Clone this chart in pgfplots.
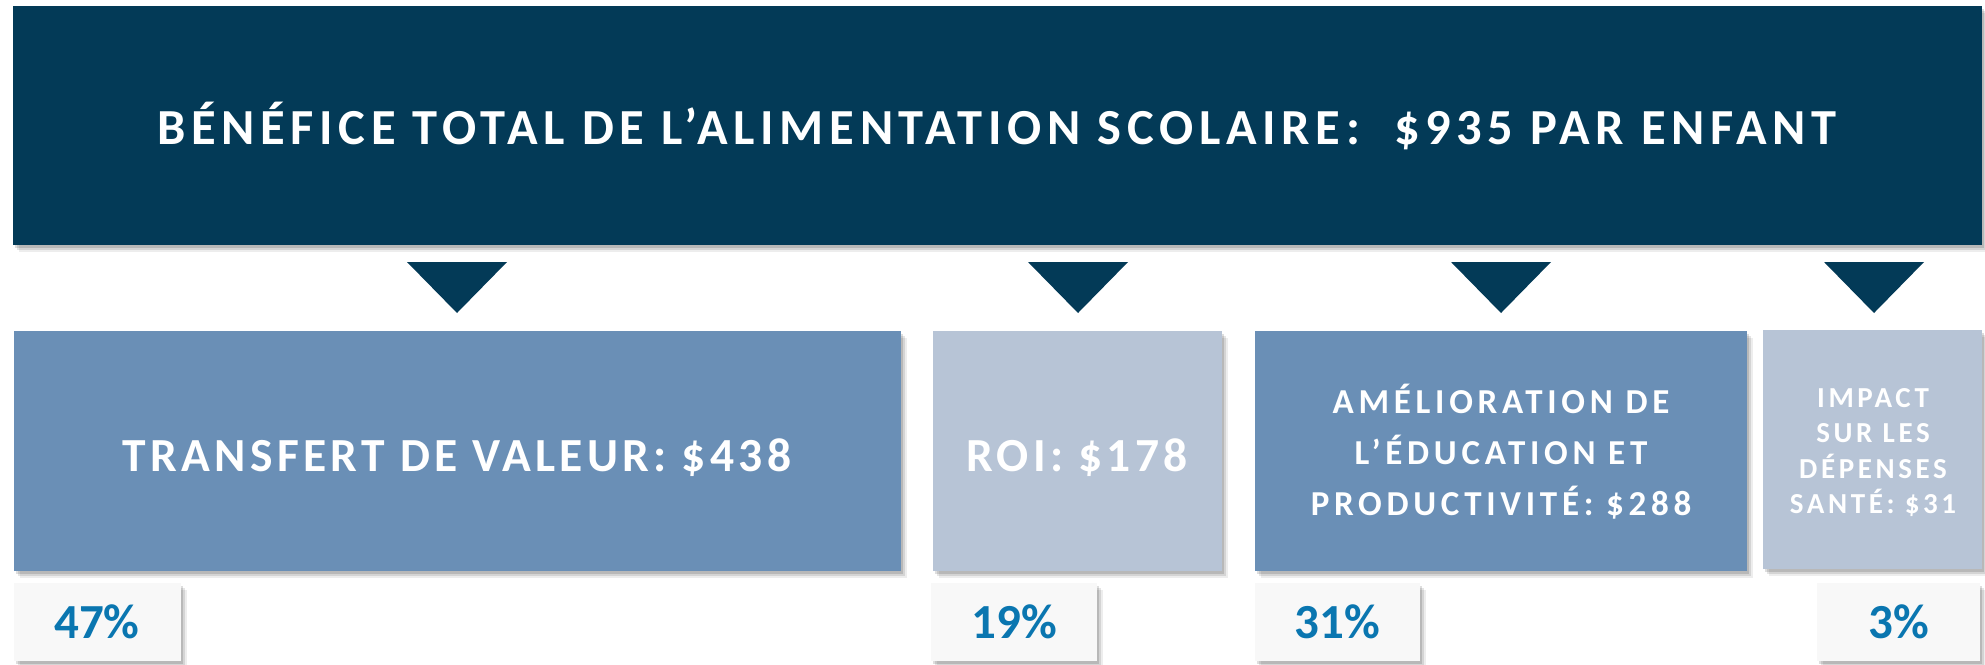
\documentclass[border=0pt]{standalone}
\usepackage{fontspec}
\setmainfont{Carlito}
\newfontfamily\fTitle{Carlito}[LetterSpace=11.2]
\newfontfamily\fBig{Carlito}[LetterSpace=9.1]
\newfontfamily\fMid{Carlito}[LetterSpace=13.5]
\newfontfamily\fSmall{Carlito}[LetterSpace=12.5]
\usepackage{pgfplots}
\pgfplotsset{compat=1.18}
\definecolor{navy}{HTML}{033A57}
\definecolor{midblue}{HTML}{6A8FB6}
\definecolor{lightblue}{HTML}{B7C4D6}
\definecolor{pctbg}{HTML}{F8F8F8}
\definecolor{pcttext}{HTML}{0A76B0}
% #1 colour, #2 x1, #3 x2, #4 y1, #5 y2
\newcommand{\rect}[5]{\addplot[draw=none, fill=#1] coordinates {(#2,#4) (#3,#4) (#3,#5) (#2,#5)};}
\newcommand{\shadowlayer}[6]{\addplot[draw=none, fill=black, fill opacity=#5, x filter/.expression={x+#6}, y filter/.expression={y+#6+1}] coordinates {(#1,#3) (#2,#3) (#2,#4) (#1,#4)};}
\newcommand{\shadow}[4]{%
  \shadowlayer{#1}{#2}{#3}{#4}{0.13}{2}%
  \shadowlayer{#1}{#2}{#3}{#4}{0.10}{4}%
  \shadowlayer{#1}{#2}{#3}{#4}{0.07}{6}%
}
\begin{document}
\begin{tikzpicture}
\begin{axis}[width=1985pt, height=664pt, scale only axis,
  xmin=0, xmax=1985, ymin=0, ymax=664, y dir=reverse, hide axis]
% background
\rect{white}{0}{1985}{0}{664}
% banner
\shadow{13}{1982}{6}{245}
\rect{navy}{13}{1982}{6}{245}
% triangles (centred over each component)
\addplot[draw=none, fill=navy] coordinates {(407,262) (507,262) (457,313)};
\addplot[draw=none, fill=navy] coordinates {(1028,262) (1128,262) (1078,313)};
\addplot[draw=none, fill=navy] coordinates {(1451,262) (1551,262) (1501,313)};
\addplot[draw=none, fill=navy] coordinates {(1824,262) (1924,262) (1874,313)};
% component boxes
\shadow{14}{901}{331}{571}
\rect{midblue}{14}{901}{331}{571}
\shadow{933}{1222}{331}{571}
\rect{lightblue}{933}{1222}{331}{571}
\shadow{1255}{1747}{331}{571}
\rect{midblue}{1255}{1747}{331}{571}
\shadow{1763}{1982}{330}{569}
\rect{lightblue}{1763}{1982}{330}{569}
% percentage boxes
\shadow{14}{181}{583}{661}
\rect{pctbg}{14}{181}{583}{661}
\shadow{931}{1097}{583}{661}
\rect{pctbg}{931}{1097}{583}{661}
\shadow{1255}{1420}{583}{661}
\rect{pctbg}{1255}{1420}{583}{661}
\shadow{1817}{1980}{583}{661}
\rect{pctbg}{1817}{1980}{583}{661}
% texts
\node[anchor=base, text=white, font=\fTitle\bfseries\fontsize{50.5}{60}\selectfont] at (axis cs:997,144) {BÉNÉFICE TOTAL DE L’ALIMENTATION SCOLAIRE:\ \ \$935 PAR ENFANT};
\node[anchor=base, text=white, font=\fBig\bfseries\fontsize{47.5}{56}\selectfont] at (axis cs:457,471) {TRANSFERT DE VALEUR: \$438};
\node[anchor=base, text=white, font=\fBig\bfseries\fontsize{47.5}{56}\selectfont] at (axis cs:1077,471) {ROI: \$178};
\node[anchor=base, text=white, font=\fMid\bfseries\fontsize{35}{42}\selectfont] at (axis cs:1501,413) {AMÉLIORATION DE};
\node[anchor=base, text=white, font=\fMid\bfseries\fontsize{35}{42}\selectfont] at (axis cs:1501,464) {L’ÉDUCATION ET};
\node[anchor=base, text=white, font=\fMid\bfseries\fontsize{35}{42}\selectfont] at (axis cs:1501,515) {PRODUCTIVITÉ: \$288};
\node[anchor=base, text=white, font=\fSmall\bfseries\fontsize{29}{35}\selectfont] at (axis cs:1873,407) {IMPACT};
\node[anchor=base, text=white, font=\fSmall\bfseries\fontsize{29}{35}\selectfont] at (axis cs:1873,442) {SUR LES};
\node[anchor=base, text=white, font=\fSmall\bfseries\fontsize{29}{35}\selectfont] at (axis cs:1873,478) {DÉPENSES};
\node[anchor=base, text=white, font=\fSmall\bfseries\fontsize{29}{35}\selectfont] at (axis cs:1873,513) {SANTÉ: \$31};
\node[anchor=base, text=pcttext, font=\bfseries\fontsize{49}{58}\selectfont] at (axis cs:97,638) {47\%};
\node[anchor=base, text=pcttext, font=\bfseries\fontsize{49}{58}\selectfont] at (axis cs:1014,638) {19\%};
\node[anchor=base, text=pcttext, font=\bfseries\fontsize{49}{58}\selectfont] at (axis cs:1337,638) {31\%};
\node[anchor=base, text=pcttext, font=\bfseries\fontsize{49}{58}\selectfont] at (axis cs:1899,638) {3\%};
\end{axis}
\end{tikzpicture}
\end{document}
